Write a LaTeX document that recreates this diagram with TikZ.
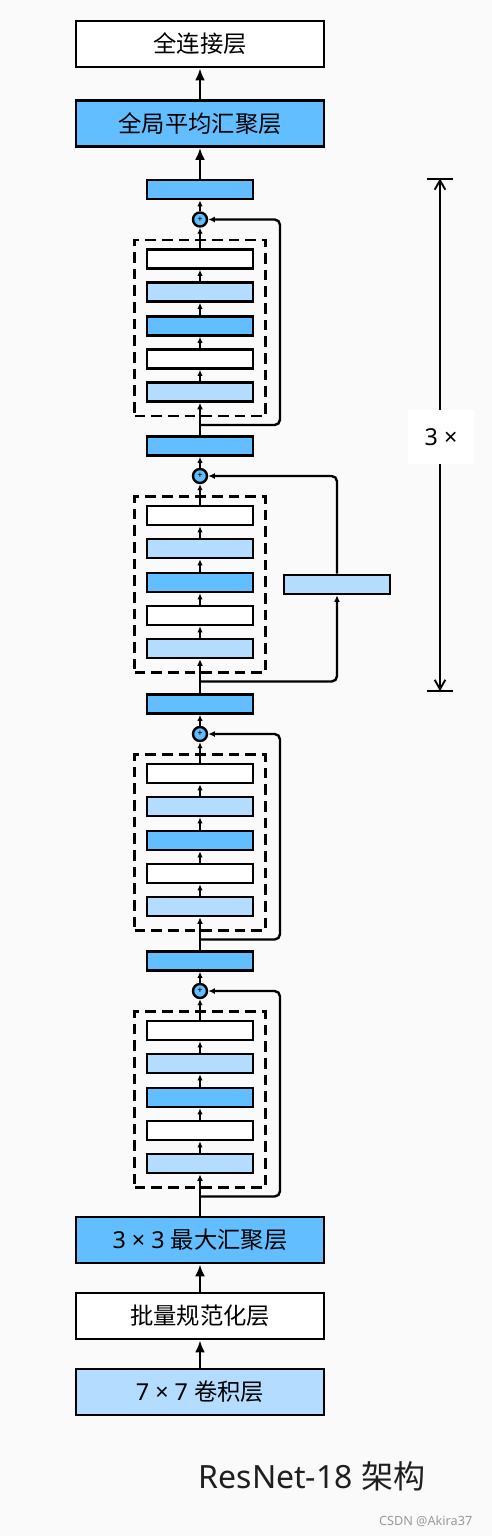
\documentclass[tikz,border=0pt]{standalone}
\usepackage{fontspec}
\setmainfont{Noto Sans}
\newfontfamily\cjk{Noto Sans CJK SC}
\usetikzlibrary{arrows.meta}
\definecolor{bgc}{HTML}{FAFAFA}
\definecolor{dblue}{HTML}{63BEFF}
\definecolor{lblue}{HTML}{B3DCFF}
\definecolor{wmark}{HTML}{9A9A9A}
\begin{document}
\begin{tikzpicture}[x=0.75pt,y=-0.75pt,
  bigbox/.style={draw, line width=2pt, minimum width=186pt, minimum height=34.5pt, inner sep=0pt, font=\fontsize{17.5}{20}\selectfont},
  layer/.style={draw, line width=1.9pt, minimum width=79.5pt, minimum height=14.25pt, inner sep=0pt},
  dbox/.style={draw, line width=1.8pt, dash pattern=on 8pt off 4.5pt, minimum width=98.25pt, minimum height=132pt, inner sep=0pt},
  plusnode/.style={circle, draw, line width=1.8pt, fill=dblue, minimum size=10.5pt, inner sep=0pt, font=\fontsize{7}{7}\selectfont},
  bigarrow/.style={line width=2pt, -{Latex[length=9pt,width=7.5pt]}},
  smallarrow/.style={line width=1.1pt, -{Latex[length=4.5pt,width=4pt]}},
  midarrow/.style={line width=1.8pt, -{Latex[length=5pt,width=4.5pt]}},
  skipline/.style={line width=1.8pt, rounded corners=4pt, -{Latex[length=5pt,width=4.5pt]}},
  dimline/.style={line width=1.4pt, {Straight Barb[length=7pt,width=8pt]}-{Straight Barb[length=7pt,width=8pt]}}
]
\path[fill=bgc] (0,0) rectangle (492,1536);

% top and bottom big layers
\node[bigbox, fill=white] (fc) at (200,44) {\cjk 全连接层};
\node[bigbox, fill=dblue] (gap) at (200,123.5) {\cjk 全局平均汇聚层};
\node[bigbox, fill=dblue] (pool) at (200,1240) {3 × 3 {\cjk 最大汇聚层}};
\node[bigbox, fill=white] (bn) at (200,1316) {\cjk 批量规范化层};
\node[bigbox, fill=lblue] (conv) at (200,1392) {7 × 7 {\cjk 卷积层}};

% residual blocks
\foreach \k/\o in {1/0, 2/256.5, 3/514.5, 4/771.5} {
  \node[layer, fill=dblue] (out\k) at (200,189.5+\o) {};
  \node[plusnode] (p\k) at (200,219.5+\o) {+};
  \node[dbox] (d\k) at (200,328+\o) {};
  \node[layer, fill=white] (l\k a) at (200,259+\o) {};
  \node[layer, fill=lblue] (l\k b) at (200,292+\o) {};
  \node[layer, fill=dblue] (l\k c) at (200,326+\o) {};
  \node[layer, fill=white] (l\k d) at (200,359+\o) {};
  \node[layer, fill=lblue] (l\k e) at (200,392+\o) {};
  \coordinate (s\k) at (200,425+\o);
  \draw[smallarrow] (l\k e) -- (l\k d);
  \draw[smallarrow] (l\k d) -- (l\k c);
  \draw[smallarrow] (l\k c) -- (l\k b);
  \draw[smallarrow] (l\k b) -- (l\k a);
  \draw[smallarrow] (l\k a) -- (p\k);
  \draw[smallarrow] (p\k) -- (out\k);
}

% side projection box in block 2
\node[layer, fill=lblue] (side) at (337,584.5) {};

% skip connections
\draw[skipline] (s1) -- (280,425) |- (p1);
\draw[skipline] (s2) -| (side);
\draw[skipline] (side) |- (p2);
\draw[skipline] (s3) -- (280,939.5) |- (p3);
\draw[skipline] (s4) -- (280,1196.5) |- (p4);

% main path between blocks
\draw[midarrow] (out2) -- (l1e);
\draw[midarrow] (out3) -- (l2e);
\draw[midarrow] (out4) -- (l3e);
\draw[midarrow] (pool) -- (l4e);
\draw[bigarrow] (out1) -- (gap);
\draw[bigarrow] (gap) -- (fc);
\draw[bigarrow] (conv) -- (bn);
\draw[bigarrow] (bn) -- (pool);

% dimension marker
\coordinate (dimtop) at (440,178.5);
\coordinate (dimbot) at (440,691);
\draw[line width=1.5pt] (427,178.5) -- (453,178.5);
\draw[line width=1.5pt] (427,691) -- (453,691);
\draw[dimline] (dimtop) -- (dimbot);
\node[fill=white, minimum width=49.5pt, minimum height=40.5pt, inner sep=0pt, font=\fontsize{17.5}{20}\selectfont] (rep) at (441,437) {3 ×};

% caption
\node[font=\fontsize{24}{28}\selectfont, text=black!88] (title) at (312,1476) {ResNet-18 {\cjk 架构}};
\node[font=\fontsize{9.5}{11}\selectfont, text=wmark, anchor=east] (mark) at (477,1521) {CSDN @Akira37};
\end{tikzpicture}
\end{document}
